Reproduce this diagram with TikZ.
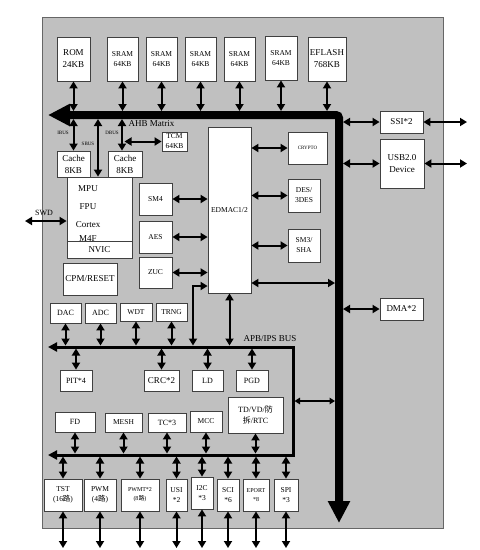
\documentclass[tikz,border=0pt]{standalone}
\usepackage{fontspec}
\setmainfont{Liberation Serif}
\newfontfamily\cjk{Noto Sans CJK SC}
\usetikzlibrary{arrows.meta}
\definecolor{chipgray}{HTML}{C0C0C0}
\begin{document}
\begin{tikzpicture}[x=1pt,y=-1pt,
  blk/.style={draw=black!75,fill=white,line width=0.8pt,inner sep=0pt,align=center},
  dbl/.style={{Triangle[length=7pt,width=8pt]}-{Triangle[length=7pt,width=8pt]},line width=2pt},
  dblsm/.style={{Triangle[length=5.5pt,width=6.5pt]}-{Triangle[length=5.5pt,width=6.5pt]},line width=1.3pt},
  ahbbus/.style={{Triangle[length=22pt,width=21pt]}-{Triangle[length=22pt,width=21pt]},line width=8pt,rounded corners=3pt},
  apbbus/.style={{Triangle[length=9pt,width=9pt]}-{Triangle[length=9pt,width=9pt]},line width=3pt},
  f9/.style={font=\fontsize{9}{12}\selectfont},
  f8/.style={font=\fontsize{8}{11}\selectfont},
  f7/.style={font=\fontsize{7.5}{10}\selectfont},
  f6/.style={font=\fontsize{6}{9}\selectfont},
  f5/.style={font=\fontsize{5}{6}\selectfont}]
\useasboundingbox (0,0) rectangle (480,550);
\filldraw[fill=chipgray,draw=black!60,line width=0.8pt] (42,17) rectangle (443,528);
\coordinate (ahbtop) at (0,111);
\coordinate (ahbbot) at (0,119);
\coordinate (ahbin) at (335,0);
\coordinate (ahbout) at (343,0);
\coordinate (apbtop) at (0,345.5);
\coordinate (apbbot) at (0,348.5);
\coordinate (apbright) at (294.5,0);
\coordinate (lowtop) at (0,453.5);
\coordinate (lowbot) at (0,456.5);
\coordinate (pinout) at (0,548);
\coordinate (extR) at (467,0);
\coordinate (sbus) at (98,119);
\coordinate (dbus) at (122,119);
\draw[ahbbus] (48,115) -- (339,115) -- (339,523);
\draw[apbbus] (48,347) -- (293,347) -- (293,455) -- (48,455);
\node[blk,f9,minimum width=33pt,minimum height=44pt] (rom) at (73.5,59) {ROM\\24KB};
\node[blk,f7,minimum width=31pt,minimum height=44pt] (sram1) at (122.5,59) {SRAM\\64KB};
\node[blk,f7,minimum width=31pt,minimum height=44pt] (sram2) at (161.5,59) {SRAM\\64KB};
\node[blk,f7,minimum width=31pt,minimum height=44pt] (sram3) at (200.5,59) {SRAM\\64KB};
\node[blk,f7,minimum width=31pt,minimum height=44pt] (sram4) at (239.5,59) {SRAM\\64KB};
\node[blk,f7,minimum width=32pt,minimum height=44pt] (sram5) at (281,58) {SRAM\\64KB};
\node[blk,f9,minimum width=38pt,minimum height=44pt] (eflash) at (327,59) {EFLASH\\768KB};
\node[blk,f9,minimum width=43pt,minimum height=22pt] (ssi) at (401.5,122) {SSI*2};
\node[blk,f9,minimum width=44pt,minimum height=49pt] (usb) at (402,163.5) {USB2.0\\Device};
\node[blk,f9,minimum width=43pt,minimum height=22pt] (dma) at (401.5,309) {DMA*2};
\node[anchor=west,f9] (ahblbl) at (125,124) {AHB Matrix};
\node[f5] (ibuslbl) at (63,133) {IBUS};
\node[f5] (sbuslbl) at (88,144) {SBUS};
\node[f5] (dbuslbl) at (112,133) {DBUS};
\node[blk,f7,minimum width=25pt,minimum height=19pt] (tcm) at (174.5,141.5) {TCM\\64KB};
\node[blk,f9,minimum width=33pt,minimum height=26pt] (cacheA) at (73.5,164) {Cache\\8KB};
\node[blk,f9,minimum width=34pt,minimum height=26pt] (cacheB) at (125,164) {Cache\\8KB};
\node[blk,minimum width=65pt,minimum height=64pt] (cpu) at (99.5,209) {};
\node[f9] (mpu) at (88,189) {MPU};
\node[f9] (fpu) at (88,207) {FPU};
\node[f9] (cortex) at (88,225) {Cortex};
\node[f9] (mfour) at (88,239) {M4F};
\node[blk,f9,minimum width=65pt,minimum height=17pt] (nvic) at (99.5,249.5) {NVIC};
\node[f8] (swdlbl) at (44,213) {SWD};
\node[blk,f7,minimum width=33pt,minimum height=32pt] (sm4) at (155.5,199) {SM4};
\node[blk,f7,minimum width=33pt,minimum height=32pt] (aes) at (155.5,237) {AES};
\node[blk,f7,minimum width=33pt,minimum height=31pt] (zuc) at (155.5,272.5) {ZUC};
\node[blk,f9,minimum width=54pt,minimum height=32pt] (cpm) at (90,279) {CPM/RESET};
\node[blk,f7,minimum width=43pt,minimum height=166pt] (edmac) at (229.5,210) {EDMAC1/2};
\node[blk,f5,minimum width=39pt,minimum height=32pt] (crypto) at (307.5,148) {CRYPTO};
\node[blk,f7,minimum width=32pt,minimum height=33pt] (des) at (304,195.5) {DES/\\3DES};
\node[blk,f7,minimum width=32pt,minimum height=33pt] (sm3) at (304,245.5) {SM3/\\SHA};
\node[anchor=west,f9] (apblbl) at (240,339) {APB/IPS BUS};
\node[blk,f8,minimum width=31pt,minimum height=20pt] (dac) at (65.5,313) {DAC};
\node[blk,f8,minimum width=31pt,minimum height=20pt] (adc) at (100.5,313) {ADC};
\node[blk,f7,minimum width=32pt,minimum height=18pt] (wdt) at (136,312) {WDT};
\node[blk,f7,minimum width=31pt,minimum height=18pt] (trng) at (171.5,312) {TRNG};
\node[blk,f8,minimum width=32pt,minimum height=21pt] (pit) at (76,380.5) {PIT*4};
\node[blk,f9,minimum width=35pt,minimum height=21pt] (crc) at (161.5,380.5) {CRC*2};
\node[blk,f8,minimum width=31pt,minimum height=21pt] (ld) at (207.5,380.5) {LD};
\node[blk,f8,minimum width=32pt,minimum height=21pt] (pgd) at (252,380.5) {PGD};
\node[blk,f8,minimum width=55pt,minimum height=36pt] (tdvd) at (255.5,415) {TD/VD/{\cjk 防}\\{\cjk 拆}/RTC};
\node[blk,f8,minimum width=40pt,minimum height=20pt] (fd) at (75,422) {FD};
\node[blk,f7,minimum width=37pt,minimum height=19pt] (mesh) at (123.5,422.5) {MESH};
\node[blk,f8,minimum width=38pt,minimum height=19pt] (tc) at (167,422.5) {TC*3};
\node[blk,f7,minimum width=32pt,minimum height=21pt] (mcc) at (206,421.5) {MCC};
\node[blk,f7,minimum width=38pt,minimum height=32pt] (tst) at (63,495) {TST\\(16{\cjk 路})};
\node[blk,f7,minimum width=32pt,minimum height=32pt] (pwm) at (100,495) {PWM\\(4{\cjk 路})};
\node[blk,f6,minimum width=38pt,minimum height=32pt] (pwmt) at (140,495) {PWMT*2\\(8{\cjk 路})};
\node[blk,f7,minimum width=21pt,minimum height=32pt] (usi) at (176.5,495) {USI\\*2};
\node[blk,f7,minimum width=22pt,minimum height=32pt] (i2c) at (202,493) {I2C\\*3};
\node[blk,f7,minimum width=22pt,minimum height=32pt] (sci) at (228,495) {SCI\\*6};
\node[blk,f6,minimum width=26pt,minimum height=32pt] (eport) at (256,495) {EPORT\\*8};
\node[blk,f7,minimum width=24pt,minimum height=32pt] (spi) at (286,495) {SPI\\*3};
\draw[dbl] (rom.south) -- (rom.south |- ahbtop);
\draw[dbl] (sram1.south) -- (sram1.south |- ahbtop);
\draw[dbl] (sram2.south) -- (sram2.south |- ahbtop);
\draw[dbl] (sram3.south) -- (sram3.south |- ahbtop);
\draw[dbl] (sram4.south) -- (sram4.south |- ahbtop);
\draw[dbl] (sram5.south) -- (sram5.south |- ahbtop);
\draw[dbl] (eflash.south) -- (eflash.south |- ahbtop);
\draw[dbl] (ssi.west -| ahbout) -- (ssi.west);
\draw[dbl] (ssi.east) -- (ssi.east -| extR);
\draw[dbl] (usb.west -| ahbout) -- (usb.west);
\draw[dbl] (usb.east) -- (usb.east -| extR);
\draw[dbl] (dma.west -| ahbout) -- (dma.west);
\draw[dbl] (cacheA.north) -- (cacheA.north |- ahbbot);
\draw[dbl] (sbus) -- (sbus |- cpu.north);
\draw[dbl] (dbus) -- (dbus |- cacheB.north);
\draw[dbl] (tcm.west) -- (tcm.west -| 124.5,0);
\draw[dbl] (cpu.west |- 0,221) -- (25,221);
\draw[dbl] (sm4.east) -- (sm4.east -| edmac.west);
\draw[dbl] (aes.east) -- (aes.east -| edmac.west);
\draw[dbl] (zuc.east) -- (zuc.east -| edmac.west);
\draw[dbl] (crypto.west) -- (crypto.west -| edmac.east);
\draw[dbl] (des.west) -- (des.west -| edmac.east);
\draw[dbl] (sm3.west) -- (sm3.west -| edmac.east);
\draw[dbl] (edmac.east |- 0,283) -- (ahbin |- 0,283);
\draw[dbl] (edmac.west |- 0,286) -| (193,345.5);
\draw[dbl] (edmac.south) -- (edmac.south |- apbtop);
\draw[dblsm] (apbright |- 0,401) -- (ahbin |- 0,401);
\draw[dbl] (dac.south) -- (dac.south |- apbtop);
\draw[dbl] (adc.south) -- (adc.south |- apbtop);
\draw[dbl] (wdt.south) -- (wdt.south |- apbtop);
\draw[dbl] (trng.south) -- (trng.south |- apbtop);
\draw[dbl] (pit.north) -- (pit.north |- apbbot);
\draw[dbl] (crc.north) -- (crc.north |- apbbot);
\draw[dbl] (ld.north) -- (ld.north |- apbbot);
\draw[dbl] (pgd.north) -- (pgd.north |- apbbot);
\draw[dbl] (fd.south) -- (fd.south |- lowtop);
\draw[dbl] (mesh.south) -- (mesh.south |- lowtop);
\draw[dbl] (tc.south) -- (tc.south |- lowtop);
\draw[dbl] (mcc.south) -- (mcc.south |- lowtop);
\draw[dbl] (tdvd.south) -- (tdvd.south |- lowtop);
\draw[dbl] (tst.north) -- (tst.north |- lowbot);
\draw[dbl] (pwm.north) -- (pwm.north |- lowbot);
\draw[dbl] (pwmt.north) -- (pwmt.north |- lowbot);
\draw[dbl] (usi.north) -- (usi.north |- lowbot);
\draw[dbl] (i2c.north) -- (i2c.north |- lowbot);
\draw[dbl] (sci.north) -- (sci.north |- lowbot);
\draw[dbl] (eport.north) -- (eport.north |- lowbot);
\draw[dbl] (spi.north) -- (spi.north |- lowbot);
\draw[dbl] (tst.south) -- (tst.south |- pinout);
\draw[dbl] (pwm.south) -- (pwm.south |- pinout);
\draw[dbl] (pwmt.south) -- (pwmt.south |- pinout);
\draw[dbl] (usi.south) -- (usi.south |- pinout);
\draw[dbl] (i2c.south) -- (i2c.south |- pinout);
\draw[dbl] (sci.south) -- (sci.south |- pinout);
\draw[dbl] (eport.south) -- (eport.south |- pinout);
\draw[dbl] (spi.south) -- (spi.south |- pinout);
\end{tikzpicture}
\end{document}
